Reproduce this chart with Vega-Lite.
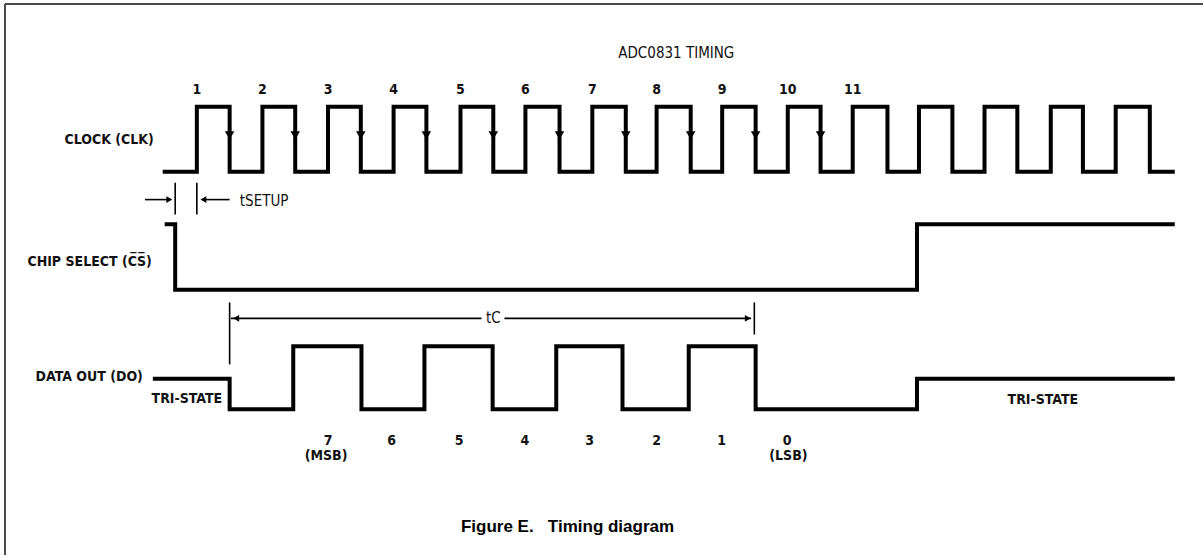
{
  "$schema": "https://vega.github.io/schema/vega-lite/v6.json",
  "width": 1204,
  "height": 556,
  "autosize": {"type": "fit", "contains": "padding"},
  "padding": 0,
  "background": "#ffffff",
  "config": {"view": {"stroke": null}},
  "datasets": {
    "signals": [
      {"s":"CLK","i":0,"t":0.51,"v":6},
      {"s":"CLK","i":1,"t":1,"v":6},{"s":"CLK","i":2,"t":1,"v":7},{"s":"CLK","i":3,"t":1.5,"v":7},{"s":"CLK","i":4,"t":1.5,"v":6},
      {"s":"CLK","i":5,"t":2,"v":6},{"s":"CLK","i":6,"t":2,"v":7},{"s":"CLK","i":7,"t":2.5,"v":7},{"s":"CLK","i":8,"t":2.5,"v":6},
      {"s":"CLK","i":9,"t":3,"v":6},{"s":"CLK","i":10,"t":3,"v":7},{"s":"CLK","i":11,"t":3.5,"v":7},{"s":"CLK","i":12,"t":3.5,"v":6},
      {"s":"CLK","i":13,"t":4,"v":6},{"s":"CLK","i":14,"t":4,"v":7},{"s":"CLK","i":15,"t":4.5,"v":7},{"s":"CLK","i":16,"t":4.5,"v":6},
      {"s":"CLK","i":17,"t":5.02,"v":6},{"s":"CLK","i":18,"t":5.02,"v":7},{"s":"CLK","i":19,"t":5.52,"v":7},{"s":"CLK","i":20,"t":5.52,"v":6},
      {"s":"CLK","i":21,"t":6.01,"v":6},{"s":"CLK","i":22,"t":6.01,"v":7},{"s":"CLK","i":23,"t":6.53,"v":7},{"s":"CLK","i":24,"t":6.53,"v":6},
      {"s":"CLK","i":25,"t":7.03,"v":6},{"s":"CLK","i":26,"t":7.03,"v":7},{"s":"CLK","i":27,"t":7.54,"v":7},{"s":"CLK","i":28,"t":7.54,"v":6},
      {"s":"CLK","i":29,"t":8.01,"v":6},{"s":"CLK","i":30,"t":8.01,"v":7},{"s":"CLK","i":31,"t":8.53,"v":7},{"s":"CLK","i":32,"t":8.53,"v":6},
      {"s":"CLK","i":33,"t":9.01,"v":6},{"s":"CLK","i":34,"t":9.01,"v":7},{"s":"CLK","i":35,"t":9.52,"v":7},{"s":"CLK","i":36,"t":9.52,"v":6},
      {"s":"CLK","i":37,"t":10.01,"v":6},{"s":"CLK","i":38,"t":10.01,"v":7},{"s":"CLK","i":39,"t":10.51,"v":7},{"s":"CLK","i":40,"t":10.51,"v":6},
      {"s":"CLK","i":41,"t":11.0,"v":6},{"s":"CLK","i":42,"t":11.0,"v":7},{"s":"CLK","i":43,"t":11.53,"v":7},{"s":"CLK","i":44,"t":11.53,"v":6},
      {"s":"CLK","i":45,"t":12.01,"v":6},{"s":"CLK","i":46,"t":12.01,"v":7},{"s":"CLK","i":47,"t":12.52,"v":7},{"s":"CLK","i":48,"t":12.52,"v":6},
      {"s":"CLK","i":49,"t":13.01,"v":6},{"s":"CLK","i":50,"t":13.01,"v":7},{"s":"CLK","i":51,"t":13.51,"v":7},{"s":"CLK","i":52,"t":13.51,"v":6},
      {"s":"CLK","i":53,"t":14.02,"v":6},{"s":"CLK","i":54,"t":14.02,"v":7},{"s":"CLK","i":55,"t":14.51,"v":7},{"s":"CLK","i":56,"t":14.51,"v":6},
      {"s":"CLK","i":57,"t":15.01,"v":6},{"s":"CLK","i":58,"t":15.01,"v":7},{"s":"CLK","i":59,"t":15.53,"v":7},{"s":"CLK","i":60,"t":15.53,"v":6},
      {"s":"CLK","i":61,"t":15.88,"v":6},
      {"s":"CS","i":0,"t":0.54,"v":5.19},{"s":"CS","i":1,"t":0.67,"v":5.19},{"s":"CS","i":2,"t":0.67,"v":4.18},
      {"s":"CS","i":3,"t":11.98,"v":4.18},{"s":"CS","i":4,"t":11.98,"v":5.19},{"s":"CS","i":5,"t":15.88,"v":5.19},
      {"s":"DO","i":0,"t":0.36,"v":2.81},{"s":"DO","i":1,"t":1.5,"v":2.81},{"s":"DO","i":2,"t":1.5,"v":2.34},
      {"s":"DO","i":3,"t":2.47,"v":2.34},{"s":"DO","i":4,"t":2.47,"v":3.31},{"s":"DO","i":5,"t":3.51,"v":3.31},
      {"s":"DO","i":6,"t":3.51,"v":2.34},{"s":"DO","i":7,"t":4.47,"v":2.34},{"s":"DO","i":8,"t":4.47,"v":3.31},
      {"s":"DO","i":9,"t":5.51,"v":3.31},{"s":"DO","i":10,"t":5.51,"v":2.34},{"s":"DO","i":11,"t":6.48,"v":2.34},
      {"s":"DO","i":12,"t":6.48,"v":3.31},{"s":"DO","i":13,"t":7.49,"v":3.31},{"s":"DO","i":14,"t":7.49,"v":2.34},
      {"s":"DO","i":15,"t":8.5,"v":2.34},{"s":"DO","i":16,"t":8.5,"v":3.31},{"s":"DO","i":17,"t":9.52,"v":3.31},
      {"s":"DO","i":18,"t":9.52,"v":2.34},{"s":"DO","i":19,"t":11.98,"v":2.34},{"s":"DO","i":20,"t":11.98,"v":2.81},
      {"s":"DO","i":21,"t":15.88,"v":2.81}
    ],
    "annotations": [
      {"name":"tSETUP start","t":0.67,"t2":0.67,"v":5.83,"v2":5.34},
      {"name":"tSETUP end","t":1.0,"t2":1.0,"v":5.83,"v2":5.34},
      {"name":"tSETUP arrow in","t":0.21,"t2":0.6,"v":5.57,"v2":5.57},
      {"name":"tSETUP arrow out","t":1.5,"t2":1.08,"v":5.57,"v2":5.57},
      {"name":"tC start","t":1.5,"t2":1.5,"v":3.985,"v2":3.03},
      {"name":"tC line left","t":1.52,"t2":5.34,"v":3.74,"v2":3.74},
      {"name":"tC line right","t":5.69,"t2":9.45,"v":3.74,"v2":3.74},
      {"name":"tC end","t":9.5,"t2":9.5,"v":3.985,"v2":3.49}
    ],
    "frame": [
      {"t":-1.925,"t2":16.341,"v":8.585,"v2":8.585},
      {"t":-1.925,"t2":-1.925,"v":8.585,"v2":0.0923}
    ],
    "clockArrows": [
      {"dir":"down","t":1.5,"v":6.56},{"dir":"down","t":2.5,"v":6.56},{"dir":"down","t":3.5,"v":6.56},
      {"dir":"down","t":4.5,"v":6.56},{"dir":"down","t":5.52,"v":6.56},{"dir":"down","t":6.53,"v":6.56},
      {"dir":"down","t":7.54,"v":6.56},{"dir":"down","t":8.53,"v":6.56},{"dir":"down","t":9.52,"v":6.56},
      {"dir":"down","t":10.51,"v":6.56}
    ],
    "arrows": [
      {"dir":"right","t":0.58,"v":5.57},{"dir":"left","t":1.1,"v":5.57},
      {"dir":"left","t":1.6,"v":3.74},{"dir":"right","t":9.4,"v":3.74}
    ],
    "signalNames": [
      {"label":"CLOCK (CLK)","t":0.345,"v":6.49},
      {"label":"CHIP SELECT (C\u0305S\u0305)","t":0.314,"v":4.615},
      {"label":"DATA OUT (DO)","t":0.177,"v":2.83}
    ],
    "centerLabels": [
      {"label":"1","t":1,"v":7.26},{"label":"2","t":2,"v":7.26},{"label":"3","t":3,"v":7.26},
      {"label":"4","t":4,"v":7.26},{"label":"5","t":5.02,"v":7.26},{"label":"6","t":6.01,"v":7.26},
      {"label":"7","t":7.03,"v":7.26},{"label":"8","t":8.01,"v":7.26},{"label":"9","t":9.01,"v":7.26},
      {"label":"10","t":10.01,"v":7.26},{"label":"11","t":11.0,"v":7.26},
      {"label":"7","t":3.0,"v":1.846},{"label":"(MSB)","t":2.97,"v":1.615},
      {"label":"6","t":3.97,"v":1.846},{"label":"5","t":5.0,"v":1.846},{"label":"4","t":6.0,"v":1.846},
      {"label":"3","t":6.99,"v":1.846},{"label":"2","t":8.01,"v":1.846},{"label":"1","t":9.0,"v":1.846},
      {"label":"0","t":10.0,"v":1.846},{"label":"(LSB)","t":10.02,"v":1.615},
      {"label":"TRI-STATE","t":0.848,"v":2.49},
      {"label":"TRI-STATE","t":13.9,"v":2.477}
    ],
    "leftLabels": [
      {"label":"tSETUP","t":1.655,"v":5.55}
    ],
    "titles": [
      {"label":"ADC0831 TIMING","t":8.31,"v":7.83},
      {"label":"tC","t":5.52,"v":3.74}
    ],
    "captions": [
      {"label":"Figure E.\u00a0\u00a0\u00a0Timing diagram","t":6.652,"v":0.523}
    ]
  },
  "encoding": {
    "x": {"field":"t","type":"quantitative","scale":{"domain":[-2.0012,16.341],"nice":false,"zero":false},"axis":null},
    "y": {"field":"v","type":"quantitative","scale":{"domain":[0.0923,8.6462],"nice":false,"zero":false},"axis":null}
  },
  "layer": [
    {
      "data": {"name":"frame"},
      "mark": {"type":"rule","color":"#4a4a4a","strokeWidth":2},
      "encoding": {"x2":{"field":"t2"},"y2":{"field":"v2"}}
    },
    {
      "data": {"name":"signals"},
      "mark": {"type":"line","color":"#000000","strokeWidth":4,"strokeJoin":"miter","strokeCap":"square","interpolate":"linear"},
      "encoding": {"detail":{"field":"s"},"order":{"field":"i","type":"quantitative"}}
    },
    {
      "data": {"name":"annotations"},
      "mark": {"type":"rule","color":"#000000","strokeWidth":1.6},
      "encoding": {"x2":{"field":"t2"},"y2":{"field":"v2"}}
    },
    {
      "data": {"name":"clockArrows"},
      "mark": {"type":"point","filled":true,"color":"#000000","opacity":1,"size":90,"shape":"triangle-down"}
    },
    {
      "data": {"name":"arrows"},
      "mark": {"type":"point","filled":true,"color":"#000000","opacity":1,"size":45},
      "encoding": {"shape":{"field":"dir","type":"nominal","scale":{"domain":["down","left","right"],"range":["triangle-down","triangle-left","triangle-right"]},"legend":null}}
    },
    {
      "data": {"name":"signalNames"},
      "mark": {"type":"text","align":"right","baseline":"middle","font":"Liberation Sans Narrow, DejaVu Sans Condensed, Liberation Sans","fontWeight":"bold","fontSize":14,"color":"#111111"},
      "encoding": {"text":{"field":"label"}}
    },
    {
      "data": {"name":"centerLabels"},
      "mark": {"type":"text","align":"center","baseline":"middle","font":"Liberation Sans Narrow, DejaVu Sans Condensed, Liberation Sans","fontWeight":"bold","fontSize":14,"color":"#111111"},
      "encoding": {"text":{"field":"label"}}
    },
    {
      "data": {"name":"leftLabels"},
      "mark": {"type":"text","align":"left","baseline":"middle","font":"Liberation Sans Narrow, DejaVu Sans Condensed, Liberation Sans","fontWeight":"normal","fontSize":15,"color":"#111111"},
      "encoding": {"text":{"field":"label"}}
    },
    {
      "data": {"name":"titles"},
      "mark": {"type":"text","align":"center","baseline":"middle","font":"Liberation Sans Narrow, DejaVu Sans Condensed, Liberation Sans","fontWeight":"normal","fontSize":15,"color":"#111111"},
      "encoding": {"text":{"field":"label"}}
    },
    {
      "data": {"name":"captions"},
      "mark": {"type":"text","align":"center","baseline":"middle","font":"Liberation Sans, Arial","fontWeight":"bold","fontSize":17,"color":"#000000"},
      "encoding": {"text":{"field":"label"}}
    }
  ]
}
